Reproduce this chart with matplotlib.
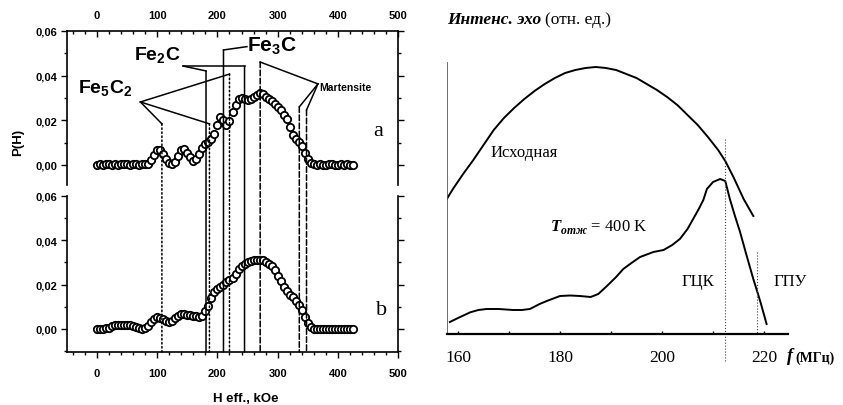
import numpy as np
import matplotlib
matplotlib.use("Agg")
import matplotlib.pyplot as plt
from matplotlib.patches import ConnectionPatch
from matplotlib.ticker import MultipleLocator

plt.rcParams["mathtext.fontset"] = "custom"
plt.rcParams["mathtext.rm"] = "Liberation Sans:bold"
plt.rcParams["mathtext.bfit"] = "Liberation Serif:bold:italic"
SANS = "Liberation Sans"; SERIF = "Liberation Serif"

# ---- left: P(H) distributions, a = top, b = bottom (units 1e-3)
H_kOe = np.arange(0, 430, 5)
P_a = np.array([
    0.1, 0.2, 0.1, 0.3, 0.2, 0.1, 0.2, 0.1, 0.2, 0.3, 0.2, 0.1, 0.2, 0.3, 0.1, 0.2, 0.3,
    0.5, 2.0, 4.5, 6.5, 6.5, 4.8, 2.5, 0.8, 0.3, 1.5, 4.0, 6.5, 7.2, 5.5, 3.5, 1.8,
    2.5, 5.0, 7.5, 9.2, 10.2, 11.5, 14.0, 18.0, 21.5, 20.0, 18.0, 19.5, 23.5, 27.0,
    29.5, 30.0, 29.5, 29.2, 29.5, 30.5, 31.5, 32.4, 31.8, 30.5, 29.5, 28.5, 27.5,
    26.0, 24.5, 22.5, 20.5, 17.0, 13.5, 11.5, 10.2, 8.5, 5.5, 2.5, 0.8, 0.2,
    0.1, 0.2, 0.1, 0.0, 0.2, 0.3, 0.1, 0.0, 0.2, 0.1, 0.2, 0.0, 0.1]) * 1e-3
P_b = np.array([
    0.0, 0.0, 0.2, 0.3, 0.6, 1.2, 1.6, 1.8, 1.8, 1.8, 1.8, 1.8, 1.5, 1.0, 0.4, 0.1, 0.3,
    1.3, 3.0, 4.5, 5.3, 5.0, 4.5, 3.8, 3.2, 3.8, 5.0, 6.0, 6.6, 6.8, 6.5, 6.2, 6.0,
    5.8, 5.5, 6.0, 8.0, 10.5, 14.0, 16.5, 18.0, 19.0, 20.0, 21.0, 22.0, 23.2, 25.0,
    27.0, 28.5, 29.5, 30.2, 30.8, 31.0, 31.2, 31.3, 31.0, 30.3, 29.5, 28.3, 26.5,
    24.0, 21.5, 19.0, 17.0, 15.5, 14.5, 12.5, 10.8, 8.5, 5.5, 2.5, 0.8, 0.1,
    0.0, 0.0, 0.1, 0.0, 0.0, 0.0, 0.1, 0.0, 0.0, 0.0, 0.0, 0.0, 0.0]) * 1e-3

# phase lines: field (kOe) and top end in panel a
fe5c2_H = [107.7, 186.7, 220.0]; fe5c2_top = [0.0184, 0.0184, 0.0407]
fe2c_H = [181.0, 245.0];         fe2c_top = [0.0421, 0.0443]
fe3c_H = [210.0];                fe3c_top = [0.0515]
mart_H = [271.0, 336.0, 348.0];  mart_top = [0.0461, 0.0260, 0.0246]

# ---- right: NMR echo intensity (rel. units) vs f, MHz
f_init = [157.8, 159, 161, 163, 165, 167, 169, 171, 173, 175, 177, 179, 181, 183, 185,
          187, 189, 191, 193, 195, 197, 199, 201, 203, 205, 207, 209, 211, 212.4, 214,
          216, 217.9]
I_init = [135, 145, 160, 174, 189, 204, 216, 226, 235, 243, 250, 256, 261, 264, 266,
          267, 266, 264, 260, 256, 250, 244, 237, 229, 219, 209, 197, 184, 173, 157,
          135, 118]
f_ann = [158.4, 160, 162.4, 164, 165.6, 168, 170.8, 172.5, 174.1, 176, 177.4, 180, 182,
         183.9, 186, 187.5, 189.2, 191, 192.4, 194, 195.7, 198.3, 200.3, 202, 203.5, 205,
         206.1, 207.2, 208.1, 208.8, 210, 211.4, 212.4, 213.3, 214.3, 215.3, 216.5,
         217.9, 219.3, 220.5]
I_ann = [12, 16, 21.7, 24, 25, 25, 24, 24, 25, 30, 33, 38, 38.5, 38, 37, 40, 48, 57, 65,
         71, 77, 82, 84, 89, 95, 105, 115, 125, 134, 145, 152, 155, 153, 135, 118, 102,
         80, 55, 32, 10]
f_bound = [212.4, 218.6]; bound_top = [195, 82]

W, HP = 843, 406
def rect(l, t, r, b):
    return [l / W, 1 - b / HP, (r - l) / W, (b - t) / HP]

fig = plt.figure(figsize=(W / 100, HP / 100), dpi=100)
fig.patch.set_facecolor("white")

axa = fig.add_axes(rect(67, 32, 398, 186))
axb = fig.add_axes(rect(67, 197, 398, 353))
mk = dict(ls="none", marker="o", ms=5.3, mfc="white", mec="black", mew=1.3)
axa.plot(H_kOe, P_a, **mk)
axb.plot(H_kOe, P_b, **mk)

axa.set_ylim(-0.009, 0.06); axb.set_ylim(-0.0104, 0.06)
for ax in (axa, axb):
    ax.set_xlim(-50, 500)
    ax.xaxis.set_major_locator(MultipleLocator(100)); ax.xaxis.set_minor_locator(MultipleLocator(20))
    ax.yaxis.set_major_locator(MultipleLocator(0.02)); ax.yaxis.set_minor_locator(MultipleLocator(0.01))
    ax.set_yticks([0, 0.02, 0.04, 0.06], ["0,00", "0,02", "0,04", "0,06"])
    ax.tick_params(axis="y", which="both", left=True, right=True, direction="out",
                   labelsize=8, pad=3, width=1)
    ax.tick_params(axis="y", which="major", length=4)
    ax.tick_params(axis="y", which="minor", length=2.5)
    for s in ax.spines.values():
        s.set_linewidth(1.2)
axa.spines["bottom"].set_visible(False)
axb.spines["top"].set_visible(False)
axa.tick_params(axis="x", which="both", bottom=False, top=True, labelbottom=False,
                labeltop=True, direction="in", labelsize=8, pad=8, width=1)
axb.tick_params(axis="x", which="both", bottom=True, top=False, direction="out",
                labelsize=8, pad=7, width=1)
for ax in (axa, axb):
    ax.tick_params(axis="x", which="major", length=4.5)
    ax.tick_params(axis="x", which="minor", length=2.5)
    for lab in ax.get_xticklabels() + ax.get_yticklabels():
        lab.set_family(SANS); lab.set_fontweight("bold")

# phase lines running through both panels
for xs, tops, ls in [(fe5c2_H, fe5c2_top, ":"), (fe2c_H, fe2c_top, "-"),
                     (fe3c_H, fe3c_top, "-"), (mart_H, mart_top, "--")]:
    for x, yt in zip(xs, tops):
        cp = ConnectionPatch(xyA=(x, yt), coordsA=axa.transData,
                             xyB=(x, axb.get_ylim()[0]), coordsB=axb.transData,
                             color="black", lw=1.1, ls=ls)
        fig.add_artist(cp)

# leaders + labels
ld = dict(color="black", lw=1.1, clip_on=False)
for x, yt in zip(fe5c2_H, fe5c2_top):
    axa.plot([72, x], [0.0282, yt], **ld)
axa.text(14, 0.0345, "Fe$_5$C$_2$", ha="center", va="center", fontsize=14,
         fontweight="bold", family=SANS)
for x, yt in zip(fe2c_H, fe2c_top):
    axa.plot([143, x], [0.0443, yt], **ld)
axa.text(100, 0.0495, "Fe$_2$C", ha="center", va="center", fontsize=14,
         fontweight="bold", family=SANS)
axa.plot([fe3c_H[0], 249], [fe3c_top[0], 0.0530], **ld)
axa.text(290, 0.0535, "Fe$_3$C", ha="center", va="center", fontsize=15,
         fontweight="bold", family=SANS)
for x, yt in zip(mart_H, mart_top):
    axa.plot([367, x], [0.0363, yt], **ld)
axa.text(369, 0.0350, "Martensite", ha="left", va="center", fontsize=7.5,
         fontweight="bold", family=SANS)

fig.text(378 / W, 1 - 131 / HP, "a", ha="center", va="center", fontsize=16, family=SERIF)
fig.text(382 / W, 1 - 311 / HP, "b", ha="center", va="center", fontsize=16, family=SERIF)
fig.text(18 / W, 1 - 142 / HP, "P(H)", rotation=90, ha="center", va="center",
         fontsize=9.5, fontweight="bold", family=SANS)
fig.text(246 / W, 1 - 399 / HP, "H eff., kOe", ha="center", va="center",
         fontsize=9.5, fontweight="bold", family=SANS)

# ---- right panel
axr = fig.add_axes(rect(447, 63, 788, 335))
axr.plot(f_init, I_init, color="black", lw=1.4)
axr.plot(f_ann, I_ann, color="black", lw=1.4)
for f, yt in zip(f_bound, bound_top):
    axr.plot([f, f], [yt, -28 if f < 215 else 0], color="#444444", lw=0.8, ls=":",
             clip_on=False)
axr.set_xlim(157.84, 224.7); axr.set_ylim(0, 272)
for s in ["top", "right"]:
    axr.spines[s].set_visible(False)
axr.spines["left"].set_linewidth(0.6); axr.spines["left"].set_color("#555555")
axr.spines["bottom"].set_linewidth(1.6)
axr.set_yticks([])
axr.xaxis.set_major_locator(MultipleLocator(20)); axr.xaxis.set_minor_locator(MultipleLocator(10))
axr.tick_params(axis="x", which="both", direction="in", length=2, width=1,
                labelsize=12.5, pad=11)
for lab in axr.get_xticklabels():
    lab.set_family(SERIF)

axr.text(166.3, 182, "Исходная", ha="left", va="center", fontsize=12, family=SERIF)
axr.text(178.0, 108, r"$\mathbfit{T}_{\mathbfit{отж}}$ = 400 K", ha="left", va="center",
         fontsize=12, family=SERIF)
axr.text(203.9, 53, "ГЦК", ha="left", va="center", fontsize=12, family=SERIF)
axr.text(221.8, 53, "ГПУ", ha="left", va="center", fontsize=12, family=SERIF)

t1 = fig.text(447 / W, 1 - 20 / HP, "Интенс. эхо", ha="left", va="center", fontsize=12.5,
              family=SERIF, fontweight="bold", style="italic")
axr.annotate("(отн. ед.)", xy=(1, 0), xycoords=t1, xytext=(3, 0),
             textcoords="offset points", ha="left", va="bottom", fontsize=12.5, family=SERIF)
t2 = fig.text(787 / W, 1 - 357 / HP, "f", ha="left", va="center", fontsize=13,
              family=SERIF, fontweight="bold", style="italic")
axr.annotate("(МГц)", xy=(1, 0), xycoords=t2, xytext=(2, 0), textcoords="offset points",
             ha="left", va="bottom", fontsize=10, family=SERIF, fontweight="bold")

fig.savefig("out.png", dpi=100, facecolor="white")
